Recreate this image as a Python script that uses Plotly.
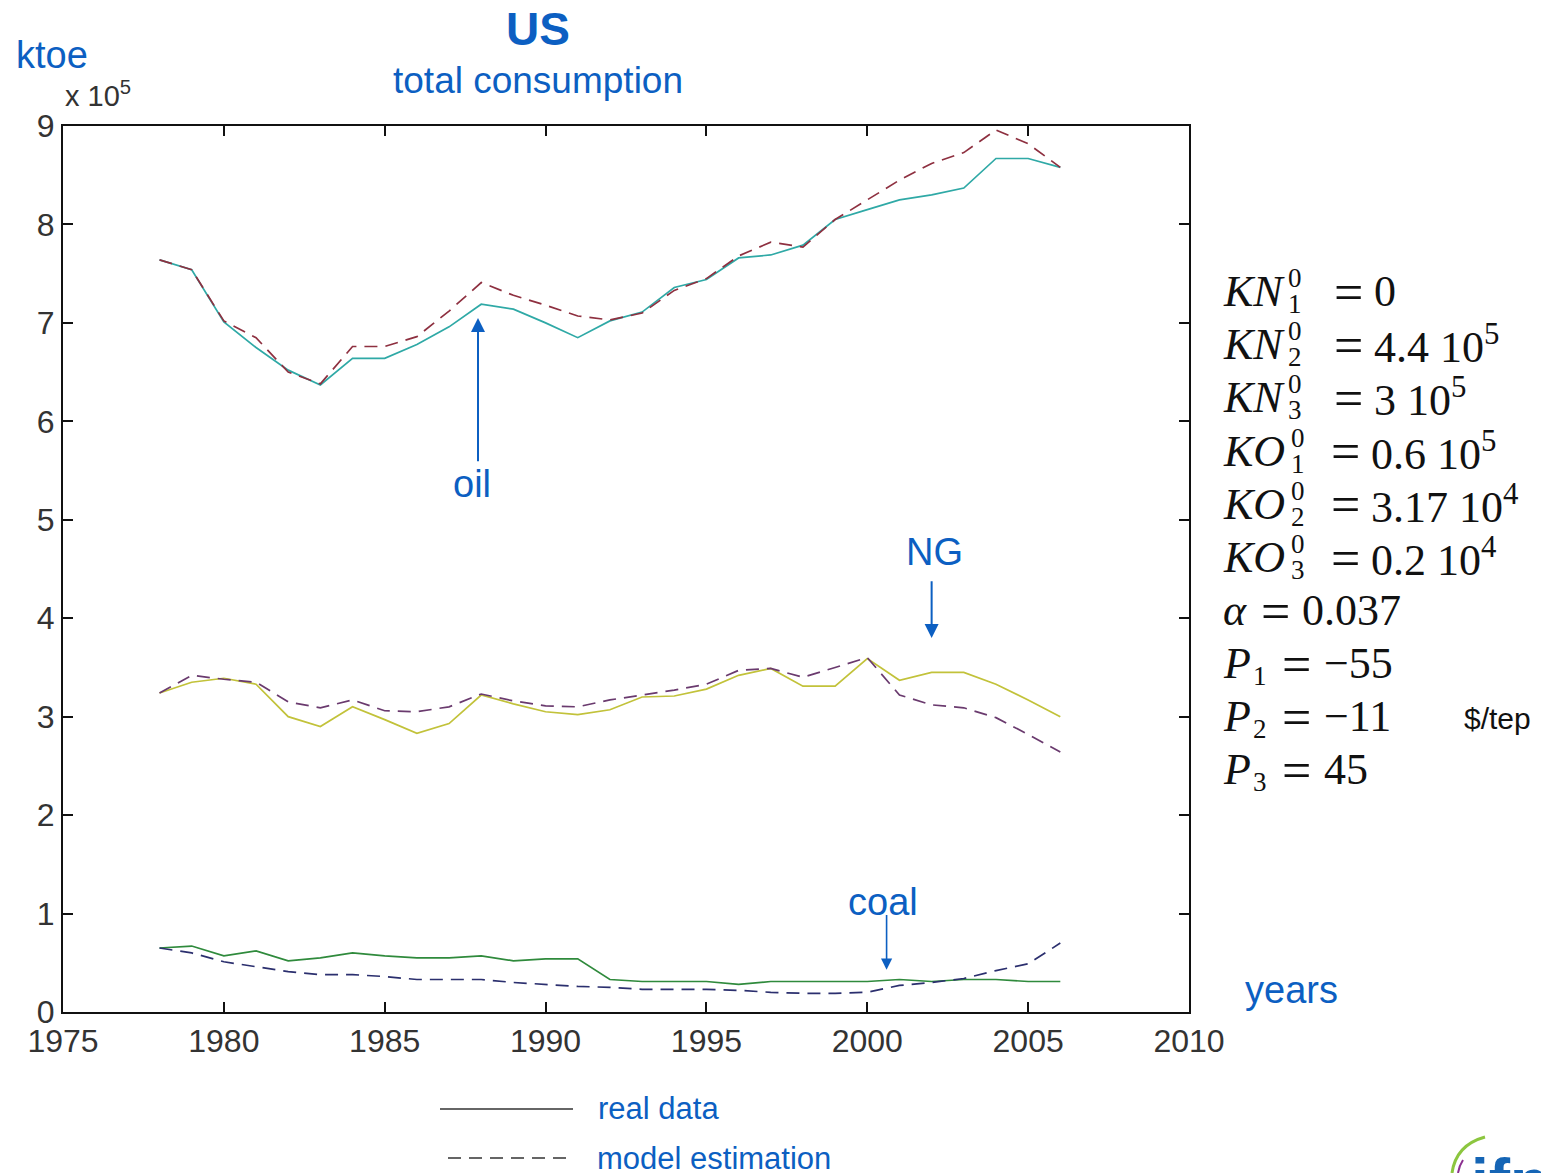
import plotly.graph_objects as go

# ---- data (units of 10^5 ktoe) ----
years = list(range(1978, 2007))

oil_real = [7.64, 7.54, 7.01, 6.75, 6.52, 6.37, 6.64, 6.64, 6.78, 6.96,
            7.19, 7.14, 7.00, 6.85, 7.02, 7.11, 7.36, 7.44, 7.66, 7.69,
            7.79, 8.05, 8.15, 8.25, 8.30, 8.37, 8.67, 8.67, 8.58]
oil_model = [7.64, 7.54, 7.02, 6.85, 6.50, 6.38, 6.76, 6.76, 6.86, 7.12,
             7.41, 7.28, 7.18, 7.07, 7.03, 7.10, 7.33, 7.45, 7.68, 7.82,
             7.77, 8.05, 8.25, 8.45, 8.62, 8.73, 8.96, 8.82, 8.58]

ng_real = [3.24, 3.35, 3.39, 3.33, 3.00, 2.90, 3.10, 2.97, 2.83, 2.93,
           3.22, 3.13, 3.05, 3.02, 3.07, 3.20, 3.21, 3.28, 3.42, 3.49,
           3.31, 3.31, 3.59, 3.37, 3.45, 3.45, 3.33, 3.17, 3.00]
ng_model = [3.24, 3.42, 3.38, 3.35, 3.15, 3.09, 3.17, 3.06, 3.05, 3.10,
            3.23, 3.16, 3.11, 3.10, 3.17, 3.22, 3.27, 3.33, 3.47, 3.49,
            3.40, 3.50, 3.60, 3.22, 3.12, 3.09, 2.99, 2.82, 2.64]

coal_real = [0.65, 0.67, 0.57, 0.62, 0.52, 0.55, 0.60, 0.57, 0.55, 0.55,
             0.57, 0.52, 0.54, 0.54, 0.33, 0.31, 0.31, 0.31, 0.28, 0.31,
             0.31, 0.31, 0.31, 0.33, 0.31, 0.33, 0.33, 0.31, 0.31]
coal_model = [0.65, 0.60, 0.51, 0.46, 0.41, 0.38, 0.38, 0.36, 0.33, 0.33,
              0.33, 0.30, 0.28, 0.26, 0.25, 0.23, 0.23, 0.23, 0.22, 0.20,
              0.19, 0.19, 0.20, 0.27, 0.30, 0.34, 0.42, 0.49, 0.70]

x_ticks = [1975, 1980, 1985, 1990, 1995, 2000, 2005, 2010]
y_ticks = list(range(0, 10))

# model parameters: (symbol, superscript, subscript, value)
param_symbols = ["KN", "KN", "KN", "KO", "KO", "KO", "α", "P", "P", "P"]
param_sups = ["0", "0", "0", "0", "0", "0", "", "", "", ""]
param_subs = ["1", "2", "3", "1", "2", "3", "", "1", "2", "3"]
param_values = ["0", "4.4 10<sup>5</sup>", "3 10<sup>5</sup>", "0.6 10<sup>5</sup>",
                "3.17 10<sup>4</sup>", "0.2 10<sup>4</sup>", "0.037", "−55", "−11", "45"]

# ---- layout geometry (pixels) ----
W, H = 1541, 1173
L, R, T, B = 63, 1189, 126, 1012
PW, PH = R - L, B - T


def px(x):
    return (x - L) / PW


def py(y):
    return (B - y) / PH


BLUE = "#0c5fc2"
SANS = "Liberation Sans, Arial, sans-serif"
SERIF = "Liberation Serif, DejaVu Serif, serif"

fig = go.Figure()

series = [
    (oil_real, "#2fa9a6", "solid"),
    (oil_model, "#8e3040", "dash"),
    (ng_real, "#c2c23a", "solid"),
    (ng_model, "#6a3a6e", "dash"),
    (coal_real, "#2f8a3c", "solid"),
    (coal_model, "#2b2f6e", "dash"),
]
for vals, col, dash in series:
    fig.add_trace(go.Scatter(
        x=years, y=vals, mode="lines",
        line=dict(color=col, width=1.7, dash="13px,8px" if dash == "dash" else "solid"),
        showlegend=False, hoverinfo="skip"))

axis_common = dict(
    showgrid=False, zeroline=False, showline=True, linecolor="#111", linewidth=2,
    mirror="ticks", ticks="inside", ticklen=10, tickwidth=2, tickcolor="#111",
    tickfont=dict(family=SANS, size=32, color="#333"),
)

fig.update_layout(
    width=W, height=H,
    margin=dict(l=L, r=W - R, t=T, b=H - B, pad=0),
    paper_bgcolor="white", plot_bgcolor="white",
    xaxis=dict(range=[1975, 2010], tickvals=x_ticks, ticktext=[str(v) for v in x_ticks],
               **axis_common),
    yaxis=dict(range=[0, 9], tickvals=y_ticks, ticktext=[str(v) for v in y_ticks],
               **axis_common),
)

ann = []


def paper_text(text, x, y, size, color, family=SANS, xanchor="center", yanchor="middle"):
    ann.append(dict(text=text, x=px(x), y=py(y), xref="paper", yref="paper",
                    showarrow=False, xanchor=xanchor, yanchor=yanchor,
                    font=dict(family=family, size=size, color=color)))


# titles
paper_text("<b>US</b>", 538, 29, 46, BLUE)
paper_text("total consumption", 538, 81, 37, BLUE)
paper_text("ktoe", 52, 55, 38, BLUE)
paper_text("x 10<sup>5</sup>", 63, 94, 29, "#333", xanchor="left")
paper_text("years", 1291, 990, 38, BLUE)

# series labels with arrows
for txt, xv, yv in [("oil", 1987.7, 5.36), ("NG", 2002.1, 4.67), ("coal", 2000.5, 1.12)]:
    ann.append(dict(text=txt, x=xv, y=yv, xref="x", yref="y", showarrow=False,
                    font=dict(family=SANS, size=38, color=BLUE)))
for xh, yh, yt, w in [(1987.9, 7.05, 5.58, 2), (2002.0, 3.8, 4.39, 2), (2000.6, 0.43, 1.0, 1.6)]:
    ann.append(dict(text="", x=xh, y=yh, ax=xh, ay=yt, axref="x", ayref="y",
                    xref="x", yref="y", showarrow=True, arrowhead=2, arrowsize=1.4,
                    arrowwidth=w, arrowcolor=BLUE))

# parameter block, each row built from symbol, stacked scripts, "=" and value
row_y = [291, 344, 397, 451, 504, 557, 610, 663, 716, 769]
for sym, sup, sub, val, ypos in zip(param_symbols, param_sups, param_subs,
                                    param_values, row_y):
    if sym == "α":
        script_x, eq_x, val_x = None, 1259, 1300
    elif sym == "P":
        script_x, eq_x, val_x = 1251, 1280, 1322
    elif sym == "KO":
        script_x, eq_x, val_x = 1289, 1329, 1369
    else:
        script_x, eq_x, val_x = 1286, 1332, 1372
    paper_text(f"<i>{sym}</i>", 1221, ypos, 44, "#111", family=SERIF, xanchor="left")
    if sup:
        paper_text(sup, script_x, ypos - 13, 27, "#111", family=SERIF, xanchor="left")
    if sub:
        paper_text(sub, script_x, ypos + 13, 27, "#111", family=SERIF, xanchor="left")
    paper_text("=", eq_x, ypos + 1, 52, "#111", family=SERIF, xanchor="left")
    paper_text(val, val_x, ypos, 44, "#111", family=SERIF, xanchor="left")

paper_text("$/tep", 1462, 718, 30, "#111", xanchor="left")

# legend key text
paper_text("real data", 596, 1108, 31, BLUE, xanchor="left")
paper_text("model estimation", 595, 1158, 31, BLUE, xanchor="left")

# logo lettering (runs past the bottom edge)
paper_text("<b>ifp</b>", 1469, 1144, 64, "#1565b5", xanchor="left", yanchor="top")

fig.update_layout(annotations=ann)

shapes = [
    dict(type="line", xref="paper", yref="paper", x0=px(440), x1=px(573),
         y0=py(1109), y1=py(1109), line=dict(color="#333", width=1.5)),
    dict(type="line", xref="paper", yref="paper", x0=px(448), x1=px(568),
         y0=py(1158), y1=py(1158), line=dict(color="#333", width=1.5, dash="13px,8px")),
    dict(type="path", xref="paper", yref="paper",
         path=f"M {px(1452)},{py(1173)} Q {px(1456)},{py(1145)} {px(1485)},{py(1137)}",
         line=dict(color="#8cc63f", width=3)),
    dict(type="path", xref="paper", yref="paper",
         path=f"M {px(1458)},{py(1173)} Q {px(1459)},{py(1166)} {px(1463)},{py(1160)}",
         line=dict(color="#8b2f8f", width=2)),
]
fig.update_layout(shapes=shapes)

fig.write_html("out.html")
